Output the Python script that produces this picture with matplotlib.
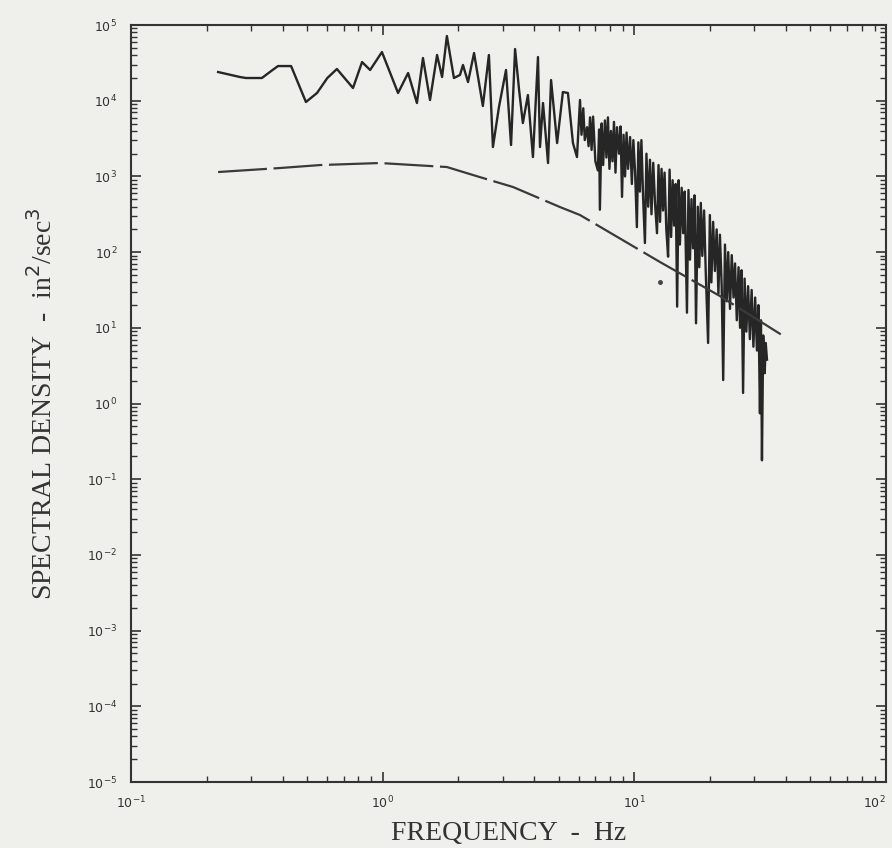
import numpy as np
import matplotlib
matplotlib.use("Agg")
import matplotlib.pyplot as plt
from matplotlib.ticker import LogLocator, NullFormatter

# ---- data (log10 values) ----
# measured spectrum: log10(frequency, Hz), log10(spectral density)
meas_log_f = [
    -0.654, -0.567, -0.543, -0.480, -0.440, -0.416, -0.364, -0.305, -0.261, -0.220, -0.182, -0.118,
    -0.082, -0.050, -0.003, 0.061, 0.101, 0.136, 0.160, 0.188, 0.216, 0.236,
    0.255, 0.283, 0.307, 0.319, 0.339, 0.363, 0.398, 0.422, 0.438, 0.462,
    0.490, 0.510, 0.526, 0.542, 0.557, 0.577, 0.597, 0.617, 0.625, 0.637,
    0.657, 0.669, 0.693, 0.716, 0.736, 0.756, 0.772,
    0.784, 0.790, 0.797, 0.803, 0.812, 0.818, 0.824, 0.830, 0.836, 0.845,
    0.855, 0.860, 0.863, 0.870, 0.876, 0.883, 0.889, 0.895, 0.901, 0.907,
    0.913, 0.919, 0.925, 0.931, 0.939, 0.945, 0.951, 0.957, 0.963, 0.969,
    0.975, 0.983, 0.990, 0.996, 1.003, 1.010, 1.016, 1.022, 1.028, 1.035,
    1.042, 1.048, 1.055, 1.062, 1.068, 1.075, 1.082, 1.090, 1.096, 1.102,
    1.108, 1.114, 1.120, 1.127, 1.134, 1.140, 1.146, 1.152, 1.158, 1.164,
    1.170, 1.176, 1.181, 1.188, 1.194, 1.200, 1.209, 1.215, 1.221, 1.227,
    1.233, 1.239, 1.245, 1.252, 1.258, 1.264, 1.270, 1.277, 1.284, 1.293,
    1.300, 1.306, 1.313, 1.320, 1.327, 1.334, 1.340, 1.347, 1.353, 1.360,
    1.367, 1.373, 1.380, 1.387, 1.394, 1.400, 1.407, 1.414, 1.420, 1.426,
    1.432, 1.438, 1.445, 1.452, 1.459, 1.466, 1.473, 1.480, 1.487, 1.493,
    1.499, 1.503, 1.507, 1.512, 1.518, 1.522, 1.527,
]
meas_log_s = [
    4.379, 4.313, 4.300, 4.300, 4.400, 4.458, 4.458, 3.983, 4.102, 4.300, 4.419, 4.168,
    4.511, 4.406, 4.643, 4.102, 4.366, 3.970, 4.564, 4.009, 4.604, 4.313,
    4.855, 4.300, 4.340, 4.472, 4.247, 4.630, 3.930, 4.604, 3.388, 3.917,
    4.406, 3.415, 4.683, 4.141, 3.705, 4.075, 3.256, 4.577, 3.388, 3.970,
    3.177, 4.273, 3.441, 4.115, 4.102, 3.441, 3.256,
    4.01, 3.55, 3.90, 3.48, 3.65, 3.40, 3.78, 3.35, 3.79, 3.20,
    3.08, 3.62, 2.56, 3.70, 3.15, 3.74, 3.25, 3.78, 3.10, 3.60,
    3.20, 3.72, 3.05, 3.65, 3.30, 3.66, 2.73, 3.55, 3.00, 3.58,
    3.10, 3.52, 2.90, 3.48, 3.05, 2.33, 3.45, 2.80, 3.48, 2.70,
    2.12, 3.30, 2.60, 3.22, 2.50, 3.18, 2.65, 2.25, 3.15, 2.40,
    3.10, 2.55, 3.05, 2.30, 1.94, 3.09, 2.20, 2.95, 2.35, 2.90,
    1.28, 2.95, 2.10, 2.85, 2.25, 2.80, 1.20, 2.82, 1.90, 2.70,
    2.05, 2.75, 1.06, 2.60, 1.80, 2.65, 1.95, 2.55, 1.70, 0.80,
    2.49, 1.60, 2.40, 1.75, 2.30, 1.45, 2.23, 1.55, 0.31, 2.10,
    1.35, 2.00, 1.25, 1.96, 1.40, 1.85, 1.10, 1.80, 1.00, 1.76,
    0.14, 1.65, 0.95, 1.55, 0.85, 1.50, 0.75, 1.40, 0.70, 1.30,
    -0.13, 1.10, -0.75, 0.90, 0.40, 0.80, 0.58,
]

# smooth design spectrum (dashed)
design_log_f = [-0.654, -0.408, -0.249, -0.011, 0.255, 0.387, 0.518, 0.704, 0.784, 1.102, 1.340, 1.586]
design_log_s = [3.058, 3.111, 3.150, 3.177, 3.124, 2.990, 2.860, 2.596, 2.490, 1.869, 1.420, 0.905]

# stray plotted dot
stray_log_f = [1.102]
stray_log_s = [1.605]

# tick labels
x_ticks = [0.1, 1, 10, 100]
x_tick_labels = ["$10^{-1}$", "$10^{0}$", "$10^{1}$", "$10^{2}$"]
y_ticks = [1e-5, 1e-4, 1e-3, 1e-2, 1e-1, 1e0, 1e1, 1e2, 1e3, 1e4, 1e5]
y_tick_labels = ["$10^{-5}$", "$10^{-4}$", "$10^{-3}$", "$10^{-2}$", "$10^{-1}$", "$10^{0}$",
                 "$10^{1}$", "$10^{2}$", "$10^{3}$", "$10^{4}$", "$10^{5}$"]

meas_f = 10 ** np.array(meas_log_f)
meas_s = 10 ** np.array(meas_log_s)
design_f = 10 ** np.array(design_log_f)
design_s = 10 ** np.array(design_log_s)

plt.rcParams["mathtext.fontset"] = "dejavusans"

bg = "#efefec"
fig = plt.figure(figsize=(8.92, 8.48), dpi=100, facecolor=bg)
ax = fig.add_axes([0.1469, 0.0778, 0.8464, 0.8927], facecolor=bg)

ax.plot(meas_f, meas_s, color="#262626", lw=1.7)
ax.plot(design_f, design_s, color="#3a3a3a", lw=1.6, linestyle=(0, (22, 3)))
ax.plot(10 ** np.array(stray_log_f), 10 ** np.array(stray_log_s), "o", color="#444444", ms=2.5)

ax.set_xscale("log")
ax.set_yscale("log")
ax.set_xlim(0.1, 100)
ax.set_ylim(1e-5, 1e5)

ax.set_xticks(x_ticks, labels=x_tick_labels)
ax.set_yticks(y_ticks, labels=y_tick_labels)
ax.xaxis.set_minor_locator(LogLocator(base=10, subs=np.arange(2, 10), numticks=20))
ax.yaxis.set_minor_locator(LogLocator(base=10, subs=np.arange(2, 10), numticks=20))
ax.xaxis.set_minor_formatter(NullFormatter())
ax.yaxis.set_minor_formatter(NullFormatter())
ax.get_xticklabels()[-1].set_horizontalalignment("right")

ax.tick_params(which="both", direction="in", top=True, right=True, color="#333333")
ax.tick_params(which="major", length=7, width=1.2, labelsize=9, labelcolor="#333333")
ax.tick_params(axis="x", which="major", pad=9)
ax.tick_params(axis="y", which="major", pad=10)
ax.tick_params(which="minor", length=4, width=1.0)
for sp in ax.spines.values():
    sp.set_color("#333333")
    sp.set_linewidth(1.5)

ax.set_xlabel("FREQUENCY  -  Hz", family="Liberation Serif", fontsize=20, color="#333333")
ax.xaxis.set_label_coords(0.5, -0.052)
ax.set_ylabel("SPECTRAL DENSITY  -  in$^2$/sec$^3$", family="Liberation Serif", fontsize=20,
              color="#333333")
ax.yaxis.set_label_coords(-0.097, 0.5)

fig.savefig("out.png", dpi=100, facecolor=bg)
